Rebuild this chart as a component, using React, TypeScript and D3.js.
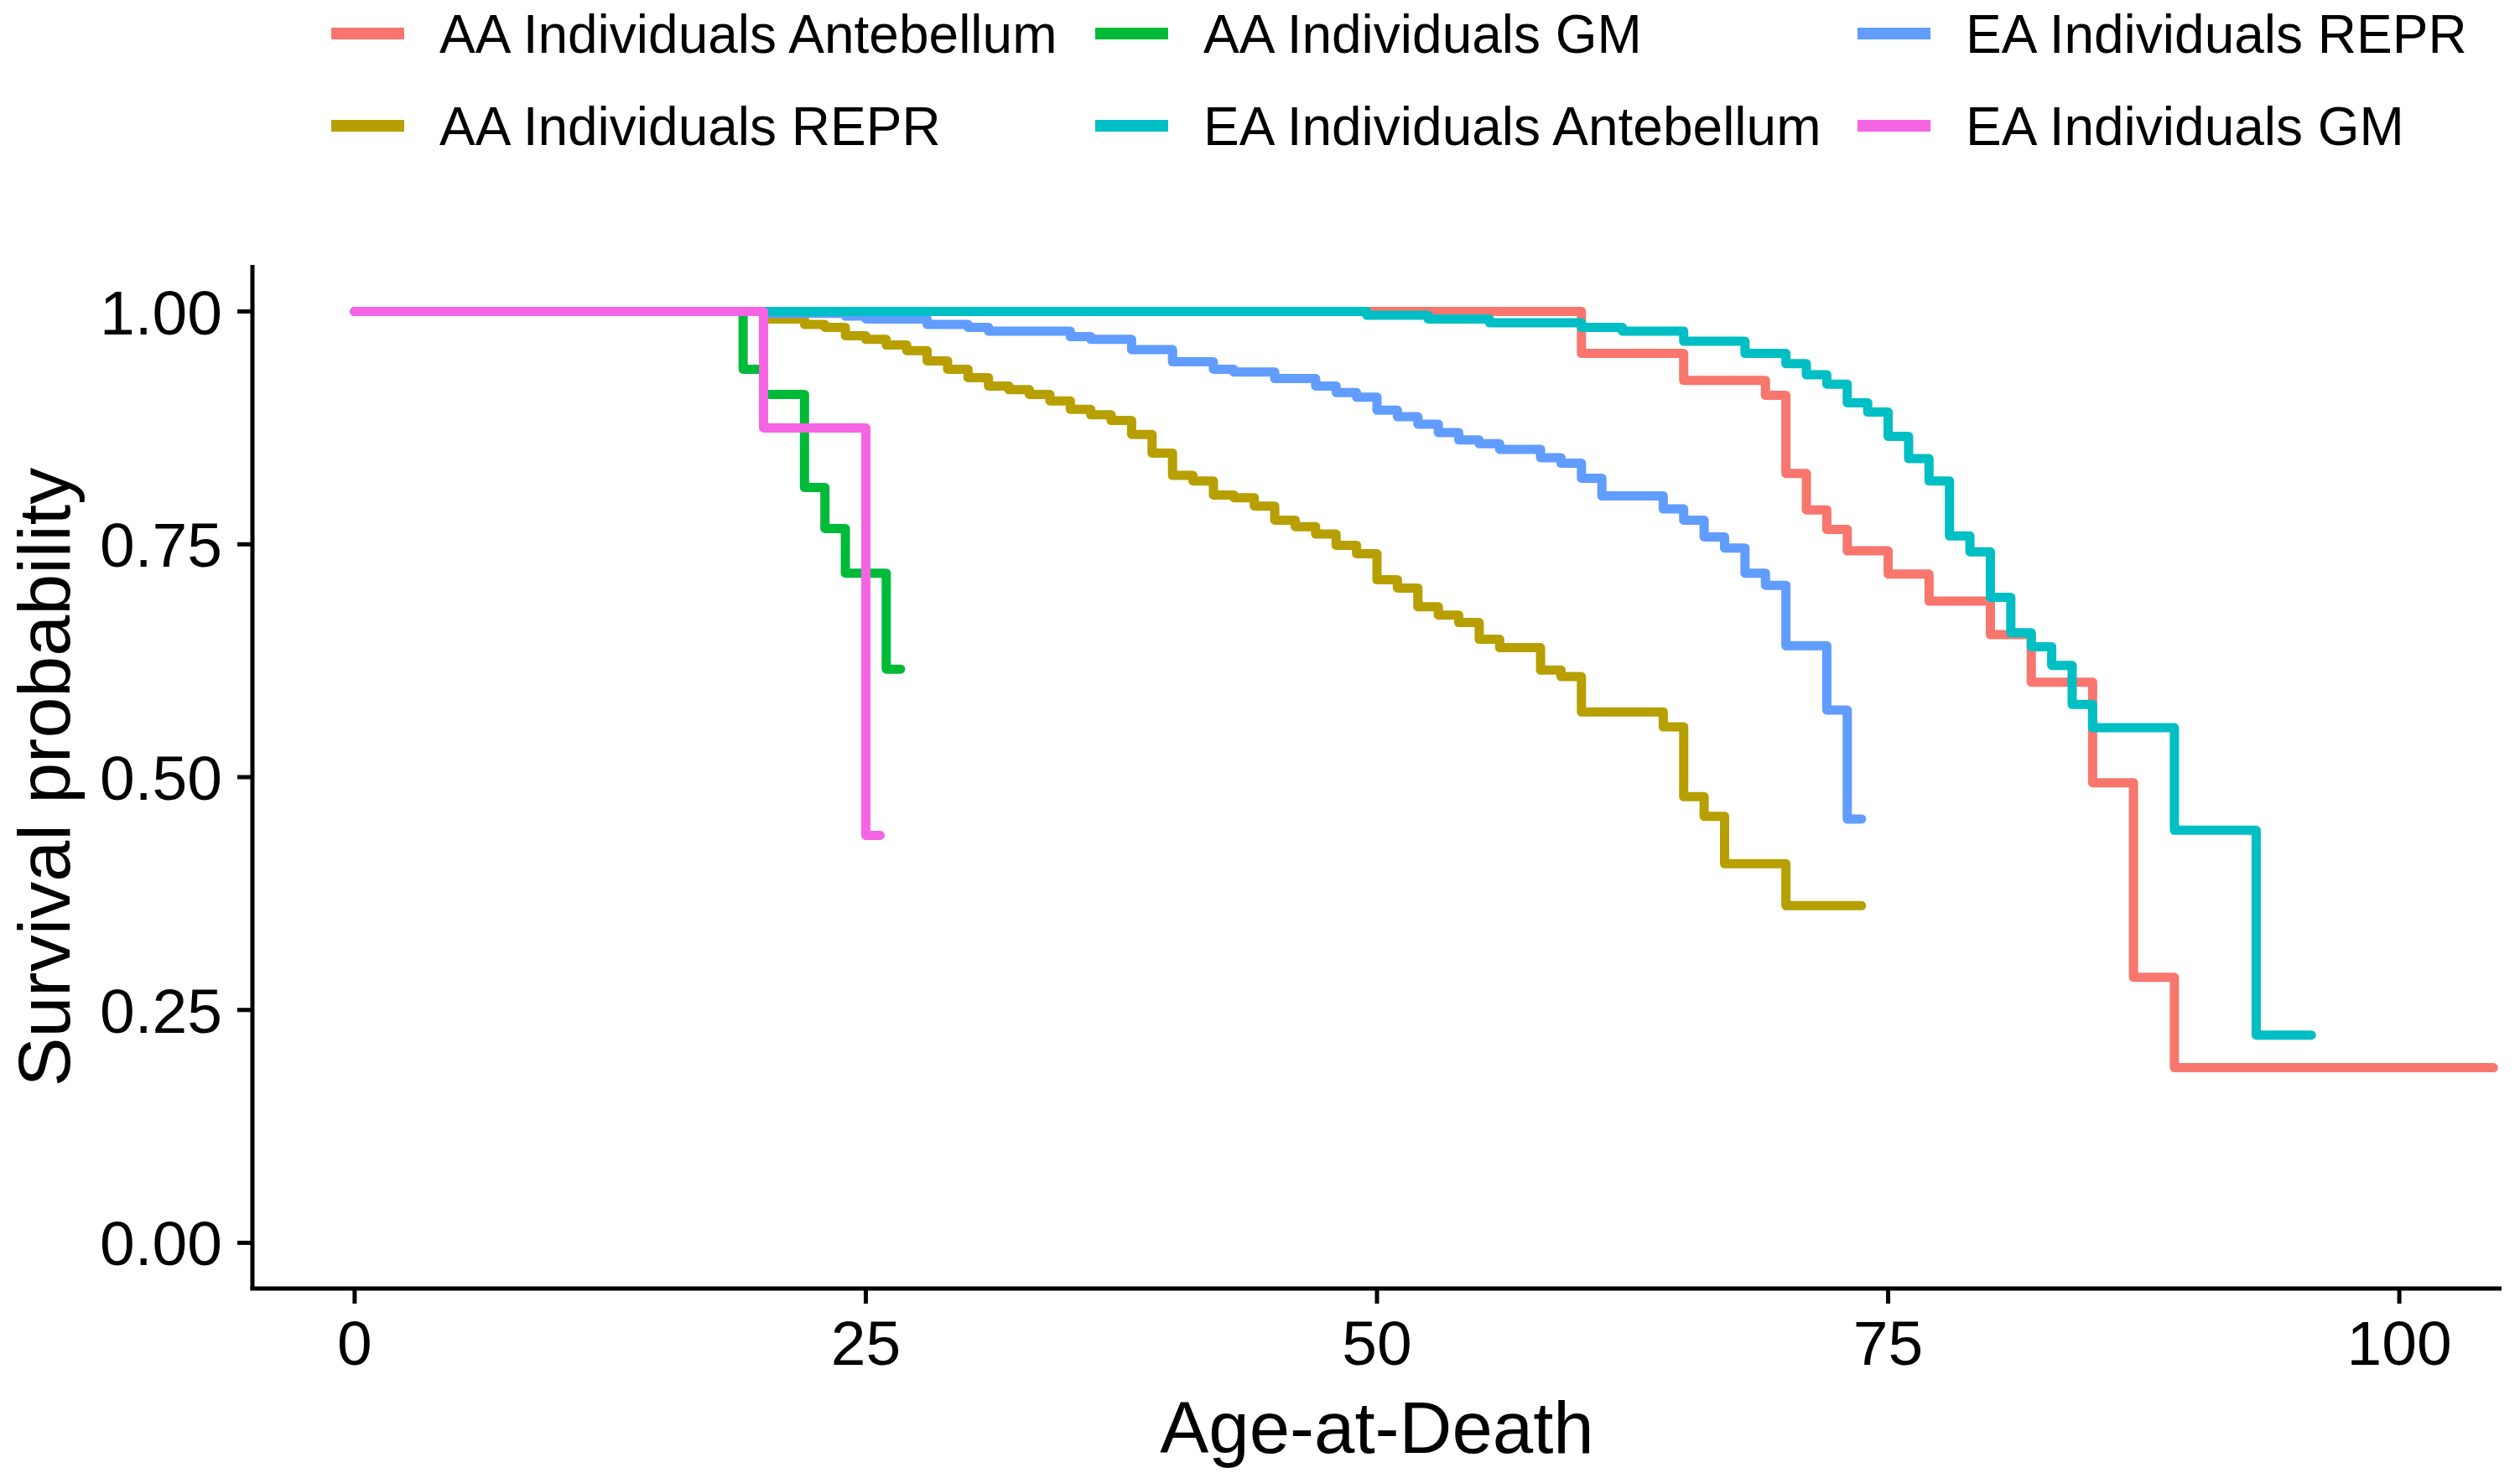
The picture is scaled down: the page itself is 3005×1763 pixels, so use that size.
import React from 'react';
import * as d3 from 'd3';

// Kaplan-Meier step points: [age, survival]
const aaAnteTimes = [0, 60, 65, 69, 70, 71, 72, 73, 75, 77, 80, 82, 85, 87, 89];
const aaAnteSurv = [1, 0.955, 0.926, 0.91, 0.826, 0.787, 0.766, 0.743, 0.718, 0.689, 0.653, 0.602, 0.494, 0.285, 0.188];
const aaAnteEnd = 104.6;

const aaReprTimes = [0, 20, 22, 23, 24, 25, 26, 27, 28, 29, 30, 31, 32, 33, 34, 35, 36, 37, 38, 39, 40, 41, 42, 43, 44, 45, 46, 47, 48, 49, 50, 51, 52, 53, 54, 55, 56, 58, 59, 60, 64, 65, 66, 67, 70];
const aaReprSurv = [1, 0.992, 0.986, 0.983, 0.974, 0.97, 0.964, 0.958, 0.947, 0.938, 0.929, 0.92, 0.916, 0.911, 0.904, 0.895, 0.889, 0.883, 0.868, 0.848, 0.824, 0.818, 0.803, 0.8, 0.791, 0.776, 0.769, 0.761, 0.749, 0.74, 0.712, 0.703, 0.683, 0.674, 0.666, 0.648, 0.639, 0.615, 0.608, 0.57, 0.554, 0.479, 0.458, 0.407, 0.362];
const aaReprEnd = 73.7;

const aaGmTimes = [0, 19, 20, 22, 23, 24, 26];
const aaGmSurv = [1, 0.938, 0.911, 0.811, 0.767, 0.719, 0.616];
const aaGmEnd = 26.7;

const eaAnteTimes = [0, 49.5, 52.5, 55.5, 60, 62, 65, 68, 70, 71, 72, 73, 74, 75, 76, 77, 78, 79, 80, 81, 82, 83, 84, 85, 89, 93];
const eaAnteSurv = [1, 0.996, 0.992, 0.988, 0.983, 0.979, 0.968, 0.955, 0.944, 0.932, 0.922, 0.902, 0.892, 0.866, 0.842, 0.818, 0.759, 0.742, 0.693, 0.655, 0.64, 0.62, 0.578, 0.553, 0.443, 0.223];
const eaAnteEnd = 95.7;

const eaReprTimes = [0, 20, 24, 25, 28, 30, 31, 35, 36, 38, 40, 42, 43, 45, 47, 48, 49, 50, 51, 52, 53, 54, 55, 56, 58, 59, 60, 61, 64, 65, 66, 67, 68, 69, 70, 72, 73];
const eaReprSurv = [1, 0.998, 0.995, 0.992, 0.986, 0.983, 0.979, 0.973, 0.97, 0.959, 0.946, 0.938, 0.935, 0.928, 0.92, 0.913, 0.908, 0.894, 0.887, 0.879, 0.87, 0.862, 0.858, 0.852, 0.843, 0.837, 0.821, 0.802, 0.788, 0.776, 0.758, 0.746, 0.719, 0.706, 0.641, 0.572, 0.455];
const eaReprEnd = 73.7;

const eaGmTimes = [0, 20, 25];
const eaGmSurv = [1, 0.875, 0.4375];
const eaGmEnd = 25.7;

const groupNames = [
  'AA Individuals Antebellum',
  'AA Individuals REPR',
  'AA Individuals GM',
  'EA Individuals Antebellum',
  'EA Individuals REPR',
  'EA Individuals GM',
];
const groupColors = ['#F8766D', '#B79F00', '#00BA38', '#00BFC4', '#619CFF', '#F564E3'];

const xTicks = [0, 25, 50, 75, 100];
const yTicks = [0, 0.25, 0.5, 0.75, 1];

const W = 3005;
const H = 1763;
const FONT = '"Liberation Sans", Arial, sans-serif';

const left = 301;
const right = 2983;
const top = 316;
const bottom = 1538;

const App = () => {
  const x = d3.scaleLinear().domain([-5, 105]).range([left, right]);
  const y = d3.scaleLinear().domain([-0.05, 1.05]).range([bottom, top]);

  const series = [
    { times: aaAnteTimes, surv: aaAnteSurv, end: aaAnteEnd, color: groupColors[0] },
    { times: aaReprTimes, surv: aaReprSurv, end: aaReprEnd, color: groupColors[1] },
    { times: aaGmTimes, surv: aaGmSurv, end: aaGmEnd, color: groupColors[2] },
    { times: eaReprTimes, surv: eaReprSurv, end: eaReprEnd, color: groupColors[4] },
    { times: eaAnteTimes, surv: eaAnteSurv, end: eaAnteEnd, color: groupColors[3] },
    { times: eaGmTimes, surv: eaGmSurv, end: eaGmEnd, color: groupColors[5] },
  ];

  const line = d3
    .line<[number, number]>()
    .x((d) => x(d[0]))
    .y((d) => y(d[1]))
    .curve(d3.curveStepAfter);

  const fmt = d3.format('.2f');

  // legend laid out column-wise, two rows
  const legendCols = [395, 1306, 2215];
  const legendRows = [40, 150];

  return (
    <div>
      <style>{'body{margin:0}'}</style>
      <svg width={W} height={H} viewBox={`0 0 ${W} ${H}`} style={{ display: 'block', background: '#fff' }}>
        <defs>
          <clipPath id="panel">
            <rect x={left} y={top} width={right - left} height={bottom - top} />
          </clipPath>
        </defs>

        {/* survival curves */}
        <g clipPath="url(#panel)">
          {series.map((s, i) => {
            const pts: [number, number][] = s.times.map((t, j) => [t, s.surv[j]]);
            pts.push([s.end, s.surv[s.surv.length - 1]]);
            return (
              <path
                key={i}
                d={line(pts) || ''}
                fill="none"
                stroke={s.color}
                strokeWidth={11}
                strokeLinejoin="round"
                strokeLinecap="round"
              />
            );
          })}
        </g>

        {/* axes */}
        <line x1={left} x2={left} y1={top} y2={bottom} stroke="#000" strokeWidth={5} />
        <line x1={left - 2.5} x2={right} y1={bottom - 1} y2={bottom - 1} stroke="#000" strokeWidth={5} />

        {yTicks.map((t) => (
          <g key={`y${t}`}>
            <line x1={left - 18} x2={left} y1={y(t)} y2={y(t)} stroke="#000" strokeWidth={5} />
            <text
              x={left - 36}
              y={y(t)}
              dy="0.36em"
              textAnchor="end"
              fontFamily={FONT}
              fontSize={75}
              fill="#000"
            >
              {fmt(t)}
            </text>
          </g>
        ))}

        {xTicks.map((t) => (
          <g key={`x${t}`}>
            <line x1={x(t)} x2={x(t)} y1={bottom - 1} y2={bottom + 17} stroke="#000" strokeWidth={5} />
            <text x={x(t)} y={1628} textAnchor="middle" fontFamily={FONT} fontSize={75} fill="#000">
              {t}
            </text>
          </g>
        ))}

        <text x={(left + right) / 2} y={1733} textAnchor="middle" fontFamily={FONT} fontSize={87} fill="#000">
          Age-at-Death
        </text>
        <text
          transform={`translate(83, ${(top + bottom) / 2}) rotate(-90)`}
          textAnchor="middle"
          fontFamily={FONT}
          fontSize={88}
          fill="#000"
        >
          Survival probability
        </text>

        {/* legend */}
        {groupNames.map((name, i) => {
          const cx = legendCols[Math.floor(i / 2)];
          const cy = legendRows[i % 2];
          return (
            <g key={name}>
              <line x1={cx} x2={cx + 87} y1={cy} y2={cy} stroke={groupColors[i]} strokeWidth={14} />
              <text x={cx + 129} y={cy} dy="0.36em" fontFamily={FONT} fontSize={64} fill="#000">
                {name}
              </text>
            </g>
          );
        })}
      </svg>
    </div>
  );
};

export default App;
